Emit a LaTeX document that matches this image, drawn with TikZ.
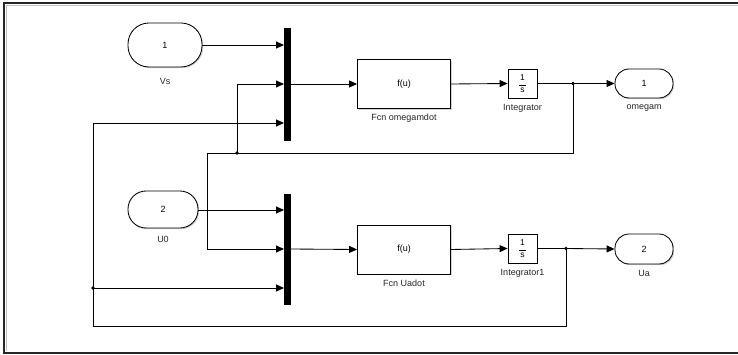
\documentclass[tikz,border=0pt]{standalone}
\usepackage{fontspec}
\setmainfont{Liberation Sans}
\usetikzlibrary{arrows.meta,shadows}
\begin{document}
\begin{tikzpicture}[x=1pt,y=-1pt,
  font=\fontsize{9}{10}\selectfont,
  wire/.style={draw=black,line width=0.85pt},
  arr/.style={wire,-{Triangle[length=8pt,width=7pt]}},
  shad/.style={drop shadow={shadow xshift=1.2pt,shadow yshift=-1.2pt,opacity=0.35,fill=gray}},
  port/.style={draw=black,line width=0.85pt,fill=white,shad,inner sep=0pt},
  blk/.style={draw=black,line width=0.85pt,fill=white,shad,inner sep=0pt},
  muxbar/.style={fill=black,draw=black,inner sep=0pt,minimum width=6pt,shad},
  lbl/.style={inner sep=0pt,text=black!85},
  dot/.style={circle,fill=black,inner sep=0pt,minimum size=3.6pt}
]
\useasboundingbox (0,0) rectangle (738,355);
% frame
\draw[line width=1.6pt,black!85] (738,3) -- (4,3) -- (4,353) -- (738,353);
\draw[line width=0.6pt,black!25] (738,5) -- (6,5) -- (6,351);

% blocks
\node[port,minimum width=74pt,minimum height=44pt,rounded corners=21pt] (vs) at (165,45) {1};
\node[lbl] (vsl) at (165,81) {Vs};
\node[port,minimum width=70pt,minimum height=37pt,rounded corners=18pt] (u0) at (163,209.5) {2};
\node[lbl] (u0l) at (163,239) {U0};

\node[muxbar,minimum height=112pt] (mux1) at (287,84) {};
\node[muxbar,minimum height=110pt] (mux2) at (287,249) {};

\node[blk,minimum width=93pt,minimum height=49pt] (fcn1) at (404,84) {f(u)};
\node[lbl] (fcn1l) at (404,118.5) {Fcn omegamdot};
\node[blk,minimum width=93pt,minimum height=49pt] (fcn2) at (404,249.5) {f(u)};
\node[lbl] (fcn2l) at (404,283.5) {Fcn Uadot};

\node[blk,minimum width=29pt,minimum height=29pt,align=center,font=\fontsize{8.5}{8}\selectfont] (int1) at (522.5,83.5) {1\\[-2.5pt]\rule{7pt}{0.5pt}\\[-1pt]s};
\node[lbl] (int1l) at (522.5,108.5) {Integrator};
\node[blk,minimum width=29pt,minimum height=29pt,align=center,font=\fontsize{8.5}{8}\selectfont] (int2) at (522.5,248.5) {1\\[-2.5pt]\rule{7pt}{0.5pt}\\[-1pt]s};
\node[lbl] (int2l) at (522.5,273.5) {Integrator1};

\node[port,minimum width=58pt,minimum height=29pt,rounded corners=14pt] (out1) at (644,83.5) {1};
\node[lbl] (out1l) at (644,108.5) {omegam};
\node[port,minimum width=58pt,minimum height=30pt,rounded corners=14pt] (out2) at (644,249) {2};
\node[lbl] (out2l) at (644,273.5) {Ua};

% junctions
\node[dot] (j1) at (573,83.5) {};
\node[dot] (j2) at (566,248.5) {};
\node[dot] (j3) at (237,153) {};
\node[dot] (j4) at (93,288) {};
\coordinate (c1) at (573,153);
\coordinate (c2) at (207,153);
\coordinate (c3) at (207,249);
\coordinate (c4) at (566,326);
\coordinate (c5) at (93,326);
\coordinate (c6) at (93,123);
\coordinate (c7) at (237,84);
\coordinate (m1a) at (284,45);
\coordinate (m1b) at (284,84);
\coordinate (m1c) at (284,123);
\coordinate (m2a) at (284,210);
\coordinate (m2b) at (284,249);
\coordinate (m2c) at (284,288);

% top chain
\draw[arr] (vs.east |- m1a) -- (m1a);
\draw[arr] (mux1.east) -- (fcn1.west);
\draw[arr] (fcn1.east) -- (int1.west);
\draw[wire] (int1.east) -- (j1.center);
\draw[arr] (j1.center) -- (out1.west);
% feedback omegam
\draw[wire] (j1.center) -- (c1) -- (c2) -- (c3);
\draw[arr] (c3) -- (m2b);
\draw[wire] (j3.center) -- (c7);
\draw[arr] (c7) -- (m1b);

% bottom chain
\draw[arr] (u0.east |- m2a) -- (m2a);
\draw[arr] (mux2.east) -- (fcn2.west);
\draw[arr] (fcn2.east) -- (int2.west);
\draw[wire] (int2.east) -- (j2.center);
\draw[arr] (j2.center) -- (out2.west);
% feedback Ua
\draw[wire] (j2.center) -- (c4) -- (c5) -- (c6);
\draw[arr] (c6) -- (m1c);
\draw[arr] (j4.center) -- (m2c);
\end{tikzpicture}
\end{document}
